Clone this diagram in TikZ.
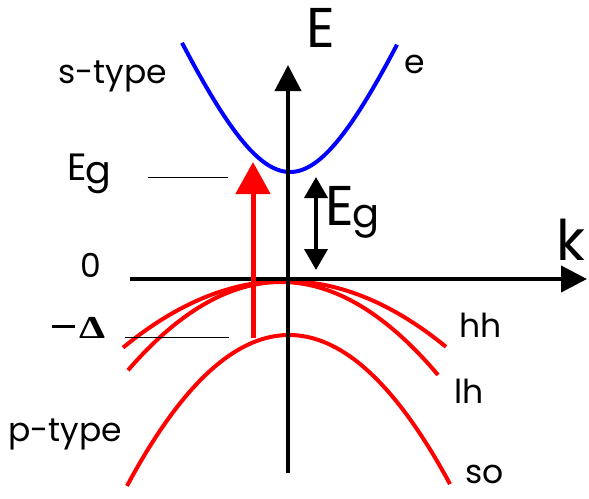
\documentclass[tikz,border=0pt]{standalone}
\usepackage{fontspec}
\setmainfont{Poppins}
\newfontfamily\deltafont{Liberation Serif}
\usetikzlibrary{arrows.meta}
\tikzset{
  band/.style={line width=4pt, red},
  cband/.style={line width=4pt, blue},
  axis/.style={line width=4pt, -{Triangle[length=26pt,width=26pt]}},
  guide/.style={line width=0.8pt},
  lbl/.style={inner sep=0pt, anchor=base west, font=\fontsize{33}{38}\selectfont},
  biglbl/.style={inner sep=0pt, anchor=base west, font=\fontsize{56}{60}\selectfont},
}
\begin{document}
\begin{tikzpicture}[x=1pt,y=-1pt]
\useasboundingbox (0,0) rectangle (589,498);
% valence bands
\draw[band] plot[domain=123:446, samples=80, smooth] (\x, {281 + 25.4*((\x-285)/100)^2});
\draw[band] plot[domain=128:438, samples=80, smooth] (\x, {282 + 37.7*((\x-281)/100)^2});
\draw[band] plot[domain=127:450, samples=80, smooth] (\x, {335 + 57.5*((\x-289)/100)^2});
% conduction band
\draw[cband] plot[domain=182:397, samples=80, smooth] (\x, {172 - 190*(sqrt(1+((\x-290)/80)^2)-1)});
% axes
\coordinate (kfrom) at (130,279);
\coordinate (kto) at (587,279);
\coordinate (efrom) at (288,473);
\coordinate (eto) at (288,65);
\draw[axis] (kfrom) -- (kto);
\draw[axis] (efrom) -- (eto);
% guide lines
\coordinate (g1a) at (148,177); \coordinate (g1b) at (228,177);
\coordinate (g2a) at (125,337); \coordinate (g2b) at (229,337);
\draw[guide] (g1a) -- (g1b);
\draw[guide] (g2a) -- (g2b);
% gap arrow
\coordinate (gapB) at (316,270); \coordinate (gapT) at (316,177);
\draw[line width=4pt, {Triangle[length=21pt,width=23pt]}-{Triangle[length=21pt,width=23pt]}] (gapB) -- (gapT);
% red transition arrow
\coordinate (trB) at (253,338); \coordinate (trT) at (253,162);
\draw[red, line width=5pt, -{Triangle[length=32pt,width=34pt]}] (trB) -- (trT);
% labels
\node[biglbl] (lE) at (306,47) {E};
\node[lbl] (le) at (404,73) {e};
\node[lbl] (ls) at (58,83) {s-type};
\node[inner sep=0pt, anchor=base west, font=\fontsize{38}{44}\selectfont] (lEg1) at (67,180) {E\kern-1pt\raisebox{-3pt}{g}};
\node[biglbl] (lEg2) at (325,225) {E\kern-1pt\raisebox{-2pt}{\fontsize{40}{44}\selectfont g}};
\node[biglbl] (lk) at (556,260) {k};
\node[lbl] (l0) at (80,277) {0};
\node[inner sep=0pt, anchor=base west, font=\fontsize{32}{36}\deltafont] (lD) at (52,338) {\rule[10pt]{23pt}{3.5pt}\kern4pt\scalebox{1.3}[1]{\textbf{Δ}}};
\node[lbl] (lhh) at (459,337) {hh};
\node[lbl] (llh) at (454,403) {lh};
\node[lbl] (lso) at (465,483) {so};
\node[lbl] (lp) at (8,441) {p-type};
\end{tikzpicture}
\end{document}
